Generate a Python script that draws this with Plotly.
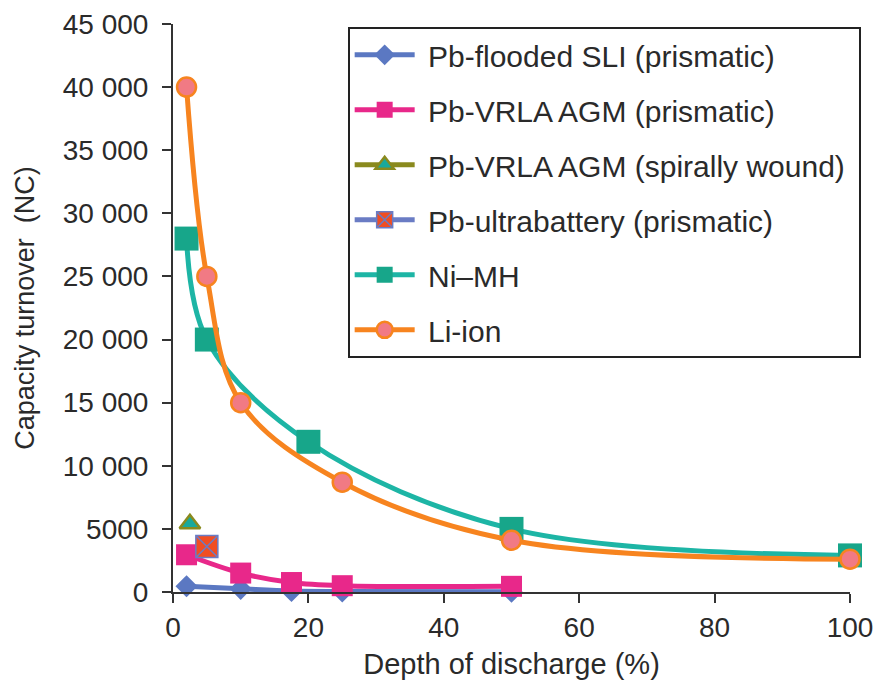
import plotly.graph_objects as go

# Depth of discharge (%) and capacity turnover (NC) for each battery type
sli_dod = [2, 10, 17.5, 25, 50]
sli_nc = [450, 250, 80, 40, 15]

agm_dod = [2, 10, 17.5, 25, 50]
agm_nc = [2950, 1500, 750, 500, 450]

spiral_dod = [2.5]
spiral_nc = [5400]

ultra_dod = [5]
ultra_nc = [3600]

nimh_dod = [2, 5, 20, 50, 100]
nimh_nc = [28000, 20000, 11900, 5000, 2900]

liion_dod = [2, 5, 10, 25, 50, 100]
liion_nc = [40000, 25000, 15000, 8700, 4100, 2600]

y_tickvals = [0, 5000, 10000, 15000, 20000, 25000, 30000, 35000, 40000, 45000]
y_ticktext = ["0", "5000", "10 000", "15 000", "20 000", "25 000",
              "30 000", "35 000", "40 000", "45 000"]
x_tickvals = [0, 20, 40, 60, 80, 100]

FONT = "Liberation Sans, Arial, Helvetica, sans-serif"
TXT = "#2a2a2a"
SP = "\u00a0"  # small gap between legend symbol and label

fig = go.Figure()

fig.add_trace(go.Scatter(
    x=sli_dod, y=sli_nc, name=SP + "Pb-flooded SLI (prismatic)", legendgroup="a",
    mode="lines+markers", line=dict(color="#5b78c2", width=5, shape="spline"),
    marker=dict(symbol="diamond", size=17, color="#5b78c2"), cliponaxis=False))

fig.add_trace(go.Scatter(
    x=agm_dod, y=agm_nc, name=SP + "Pb-VRLA AGM (prismatic)", legendgroup="b",
    mode="lines+markers", line=dict(color="#e8288a", width=5, shape="spline"),
    marker=dict(symbol="square", size=21, color="#e8288a"), cliponaxis=False))

fig.add_trace(go.Scatter(
    x=spiral_dod, y=spiral_nc, name=SP + "Pb-VRLA AGM (spirally wound)" + SP, legendgroup="c",
    mode="lines+markers", line=dict(color="#8a8a1e", width=5),
    marker=dict(symbol="triangle-up", size=18, color="#19a99c",
                line=dict(color="#8a8a1e", width=2.5)), cliponaxis=False))

fig.add_trace(go.Scatter(
    x=ultra_dod, y=ultra_nc, name=SP + "Pb-ultrabattery (prismatic)", legendgroup="d",
    mode="lines+markers", line=dict(color="#6a7cc4", width=5),
    marker=dict(symbol="square-x", size=22, color="#f04e23",
                line=dict(color="#6a7cc4", width=1.5)), cliponaxis=False))

fig.add_trace(go.Scatter(
    x=nimh_dod, y=nimh_nc, name=SP + "Ni\u2013MH", legendgroup="e",
    mode="lines+markers", line=dict(color="#1db5a5", width=5, shape="spline"),
    marker=dict(symbol="square", size=24, color="#17a68a"), cliponaxis=False))

fig.add_trace(go.Scatter(
    x=liion_dod, y=liion_nc, name=SP + "Li-ion", legendgroup="f",
    mode="lines+markers", line=dict(color="#f7841f", width=5, shape="spline"),
    marker=dict(symbol="circle", size=19, color="#f17a84",
                line=dict(color="#f7841f", width=2.5)), cliponaxis=False))

fig.update_layout(
    width=879, height=682,
    margin=dict(l=173, r=29, t=24, b=90),
    paper_bgcolor="white", plot_bgcolor="white",
    font=dict(family=FONT, size=28, color=TXT),
    showlegend=True,
    legend=dict(
        x=0.258, y=0.995, xanchor="left", yanchor="top",
        bgcolor="white", bordercolor="#222222", borderwidth=2,
        font=dict(family=FONT, size=30, color=TXT),
        itemwidth=60, tracegroupgap=13, traceorder="grouped",
    ),
    xaxis=dict(
        range=[0, 100], tickvals=x_tickvals, automargin=False,
        showgrid=False, zeroline=False,
        showline=True, linecolor="#333333", linewidth=2,
        ticks="outside", ticklen=9, tickwidth=2, tickcolor="#333333",
        tickfont=dict(family=FONT, size=28, color=TXT),
        title=dict(text="Depth of discharge (%)", standoff=12,
                   font=dict(family=FONT, size=29, color=TXT)),
    ),
    yaxis=dict(
        range=[0, 45000], tickvals=y_tickvals, ticktext=y_ticktext,
        automargin=False, ticklabelstandoff=8,
        showgrid=False, zeroline=False,
        showline=True, linecolor="#333333", linewidth=2,
        ticks="outside", ticklen=9, tickwidth=2, tickcolor="#333333",
        tickfont=dict(family=FONT, size=28, color=TXT),
        title=dict(text="Capacity turnover  (NC)", standoff=20,
                   font=dict(family=FONT, size=27, color=TXT)),
    ),
)

fig.write_html("out.html")
